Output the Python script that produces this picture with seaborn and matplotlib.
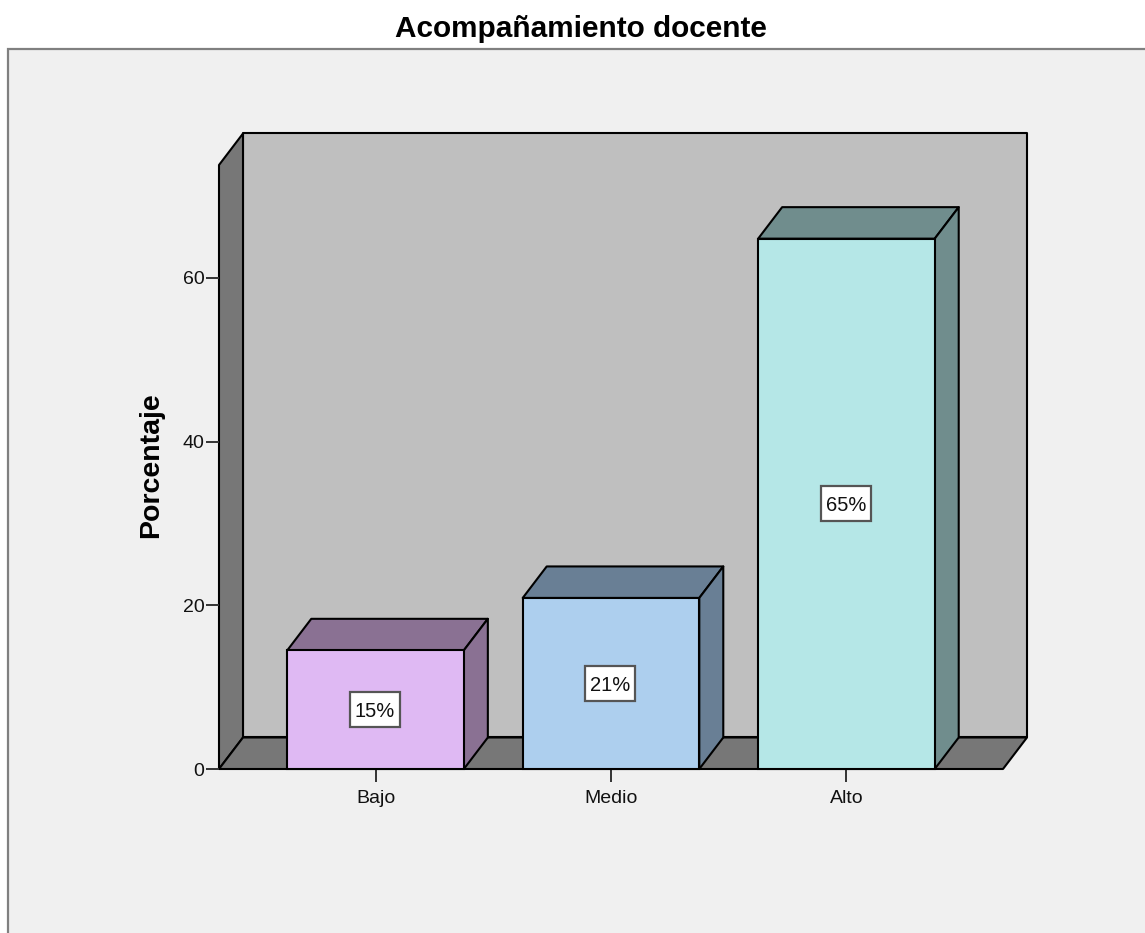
import matplotlib
matplotlib.use('Agg')
import matplotlib.pyplot as plt
import pandas as pd
import seaborn as sns
from matplotlib.patches import Polygon, Rectangle
from matplotlib.path import Path

categories = ['Bajo', 'Medio', 'Alto']
percentages = [14.5, 20.9, 64.8]
bar_labels = ['15%', '21%', '65%']
y_ticks = [0, 20, 40, 60]
front_colors = ['#DFB9F3', '#ADCFEE', '#B5E7E7']
side_colors = ['#8A7193', '#697F95', '#708D8D']

W, H = 1145, 933
DEPTH_X = 24 / 235.5   # bar spacing is 1 in data units
DEPTH_Y = 31.5 / 8.183
Y_MAX = 73.8
X_MIN, X_MAX = -0.665, 2.665

sns.set_theme(style='white')
plt.rcParams['font.family'] = ['Liberation Sans', 'DejaVu Sans']

fig = plt.figure(figsize=(W / 100, H / 100), dpi=100, facecolor='white')
fig.patches.append(Rectangle((8 / W, -0.1), 1.1, 0.1 + (H - 49) / H, transform=fig.transFigure,
                             facecolor='#F0F0F0', edgecolor='#808080', linewidth=1.6, zorder=-1))

ax = fig.add_axes([219 / W, (H - 769) / H, (1003 - 219) / W, (769 - 165) / H])
ax.patch.set_visible(False)

df = pd.DataFrame({'categoria': categories, 'porcentaje': percentages})
sns.barplot(data=df, x='categoria', y='porcentaje', hue='categoria', palette=front_colors,
            saturation=1, width=0.75, edgecolor='black', linewidth=1.5, legend=False, ax=ax)
ax.set_xlim(X_MIN, X_MAX)
ax.set_ylim(0, Y_MAX)


def face(points, color, zorder):
    ax.add_patch(Polygon(points, closed=True, facecolor=color, edgecolor='black', linewidth=1.5,
                         joinstyle='round', clip_on=False, zorder=zorder))


def label_box(x, y, w, h, scale):
    # taller than a plain square box, the labels have more room above than below
    px, top, bottom = 0.24 * scale, 0.5 * scale, 0.3 * scale
    return Path([(x - px, y - bottom), (x + w + px, y - bottom), (x + w + px, y + h + top),
                 (x - px, y + h + top), (x - px, y - bottom)], closed=True)


bars = list(ax.patches)

# walls and floor of the 3D box
x0, x1 = X_MIN, X_MAX
dx, dy = DEPTH_X, DEPTH_Y
face([(x0 + dx, dy), (x1 + dx, dy), (x1 + dx, Y_MAX + dy), (x0 + dx, Y_MAX + dy)], '#BFBFBF', 0.2)
face([(x0, 0), (x0 + dx, dy), (x0 + dx, Y_MAX + dy), (x0, Y_MAX)], '#777777', 0.3)
face([(x0, 0), (x1, 0), (x1 + dx, dy), (x0 + dx, dy)], '#777777', 0.3)

# top and side of each bar
for bar, side, label in zip(bars, side_colors, bar_labels):
    left, right = bar.get_x(), bar.get_x() + bar.get_width()
    top = bar.get_height()
    face([(left, top), (right, top), (right + dx, top + dy), (left + dx, top + dy)], side, 0.8)
    face([(right, 0), (right + dx, dy), (right + dx, top + dy), (right, top)], side, 0.8)
    bar.set_zorder(1)
    bar.set_clip_on(False)
    ax.annotate(label, xy=((left + right) / 2, top / 2), xytext=(-0.5, -1.5), textcoords='offset points',
                ha='center', va='center', fontsize=14.5, color='#111111', zorder=3,
                bbox=dict(boxstyle=label_box, facecolor='white', edgecolor='#555555', linewidth=1.6))

for spine in ax.spines.values():
    spine.set_visible(False)
ax.set_yticks(y_ticks)
ax.tick_params(axis='both', which='major', length=9.4, width=1.4, color='#333333', labelsize=14,
               labelcolor='#111111', left=True, bottom=True)
ax.tick_params(axis='x', pad=5.5)
ax.tick_params(axis='y', pad=1)
ax.set_xlabel('')
ax.set_ylabel('Porcentaje', fontsize=20.5, fontweight='bold', color='black', labelpad=13, y=0.503)

fig.text(581 / W, (H - 29) / H, 'Acompañamiento docente', ha='center', va='center',
         fontsize=21.4, fontweight='bold', color='black')

fig.savefig('out.png', dpi=100)
